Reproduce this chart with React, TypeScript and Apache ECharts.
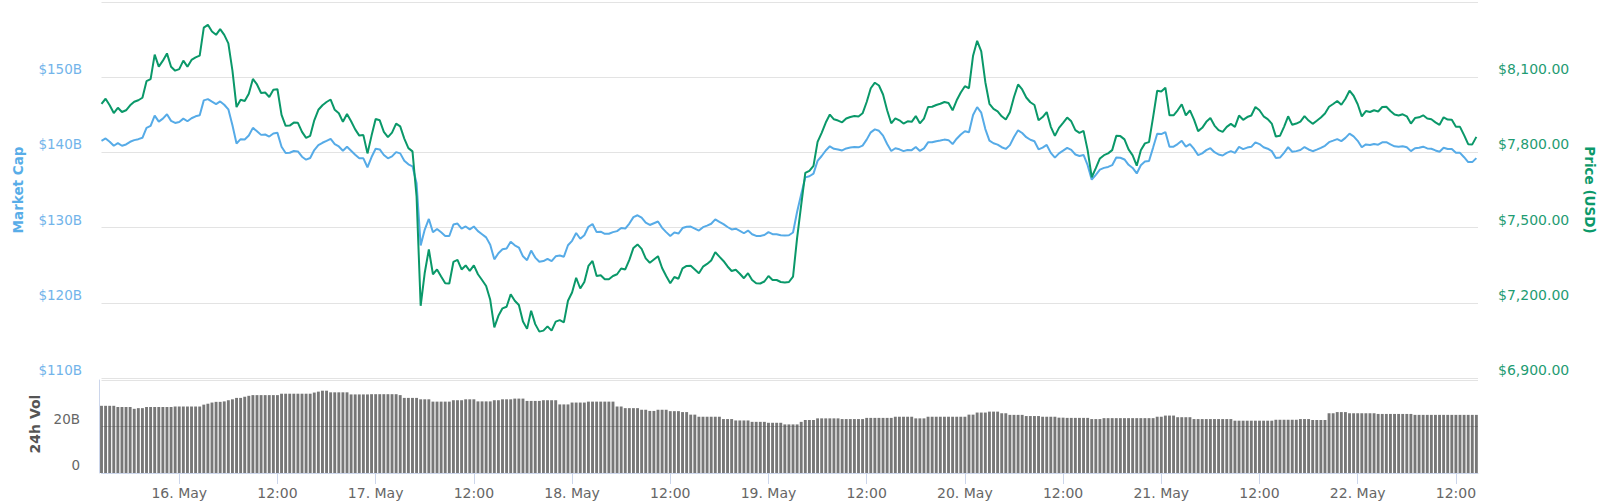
import React, { useEffect, useRef } from "react";
import * as echarts from "echarts";

// Sampling grid: hours since 16 May 00:00, every 30 minutes from 15 May 14:30
const startHour = -9.5;
const stepHours = 0.5;
const axisMinHour = -9.5;
const axisMaxHour = 158.7;

// Price (USD)
const price = [
  7994, 8014, 7988, 7957, 7978, 7961, 7968, 7988, 8002, 8008,
  8018, 8084, 8092, 8190, 8142, 8166, 8195, 8142, 8126, 8132,
  8166, 8142, 8169, 8179, 8186, 8298, 8309, 8282, 8269, 8292,
  8269, 8235, 8126, 7981, 8010, 8005, 8034, 8093, 8071, 8037,
  8039, 8021, 8050, 8052, 7950, 7906, 7907, 7919, 7918, 7882,
  7858, 7866, 7928, 7970, 7988, 8001, 8011, 7970, 7956, 7922,
  7953, 7924, 7892, 7867, 7869, 7796, 7867, 7933, 7928, 7882,
  7861, 7879, 7915, 7904, 7855, 7817, 7804, 7624, 7188, 7320,
  7413, 7314, 7333, 7305, 7278, 7277, 7363, 7371, 7333, 7349,
  7327, 7349, 7314, 7291, 7267, 7212, 7102, 7148, 7178, 7184,
  7234, 7208, 7191, 7125, 7096, 7168, 7115, 7085, 7089, 7106,
  7089, 7125, 7131, 7122, 7208, 7241, 7300, 7257, 7283, 7347,
  7367, 7307, 7310, 7294, 7294, 7307, 7314, 7337, 7333, 7371,
  7419, 7433, 7415, 7377, 7360, 7373, 7386, 7339, 7307, 7278,
  7303, 7296, 7337, 7347, 7348, 7333, 7318, 7344, 7355, 7369,
  7402, 7384, 7367, 7345, 7327, 7332, 7316, 7298, 7318, 7291,
  7278, 7277, 7285, 7307, 7291, 7291, 7283, 7281, 7283, 7304,
  7459, 7591, 7718, 7726, 7746, 7842, 7878, 7919, 7951, 7932,
  7927, 7920, 7935, 7941, 7945, 7943, 7956, 8001, 8056, 8078,
  8067, 8031, 7968, 7916, 7936, 7928, 7915, 7924, 7922, 7945,
  7916, 7935, 7981, 7982, 7989, 7994, 8001, 7997, 7968, 8008,
  8039, 8064, 8056, 8186, 8245, 8203, 8080, 7994, 7974, 7964,
  7944, 7931, 7960, 8021, 8071, 8051, 8019, 8000, 7989, 7928,
  7941, 7961, 7902, 7866, 7898, 7918, 7939, 7924, 7889, 7878,
  7886, 7809, 7701, 7737, 7776, 7789, 7796, 7809, 7866, 7865,
  7852, 7812, 7788, 7747, 7809, 7836, 7841, 7941, 8046, 8043,
  8058, 7948, 7948, 7968, 7992, 7948, 7968, 7931, 7885, 7898,
  7922, 7937, 7907, 7889, 7882, 7902, 7914, 7902, 7947, 7930,
  7941, 7947, 7981, 7968, 7944, 7933, 7915, 7863, 7866, 7902,
  7944, 7910, 7915, 7923, 7945, 7927, 7914, 7926, 7939, 7955,
  7982, 7993, 8005, 7990, 8014, 8046, 8026, 7992, 7944, 7965,
  7961, 7968, 7963, 7981, 7982, 7965, 7951, 7947, 7952, 7944,
  7915, 7937, 7940, 7948, 7935, 7932, 7920, 7910, 7940, 7931,
  7930, 7902, 7902, 7869, 7833, 7832, 7862,
];

// Market cap (billions USD)
const marketCap = [
  141.54, 141.85, 141.41, 140.88, 141.23, 140.88, 141.06, 141.41, 141.63, 141.76,
  141.94, 143.26, 143.52, 144.89, 144.10, 144.49, 145.07, 144.19, 143.92, 144.05,
  144.49, 144.14, 144.54, 144.80, 144.93, 146.92, 147.09, 146.74, 146.43, 146.78,
  146.34, 145.73, 143.61, 141.19, 141.76, 141.72, 142.25, 143.26, 142.82, 142.33,
  142.38, 142.11, 142.51, 142.60, 140.75, 139.91, 139.96, 140.18, 140.13, 139.43,
  139.03, 139.25, 140.31, 140.97, 141.28, 141.54, 141.81, 141.10, 140.79, 140.22,
  140.75, 140.22, 139.69, 139.21, 139.21, 138.02, 139.38, 140.48, 140.40, 139.65,
  139.21, 139.47, 140.04, 139.87, 138.90, 138.41, 138.15, 135.90, 127.62, 129.74,
  131.15, 129.38, 129.82, 129.37, 128.89, 128.88, 130.40, 130.54, 129.87, 130.15,
  129.76, 130.15, 129.53, 129.12, 128.70, 127.72, 125.78, 126.59, 127.12, 127.23,
  128.11, 127.65, 127.35, 126.18, 125.67, 126.94, 126.01, 125.47, 125.55, 125.85,
  125.55, 126.18, 126.29, 126.13, 127.65, 128.24, 129.28, 128.52, 128.98, 130.11,
  130.47, 129.40, 129.46, 129.18, 129.18, 129.40, 129.53, 129.94, 129.87, 130.54,
  131.39, 131.64, 131.32, 130.65, 130.35, 130.58, 130.81, 129.97, 129.40, 128.89,
  129.34, 129.21, 129.94, 130.11, 130.13, 129.87, 129.60, 130.06, 130.26, 130.51,
  131.09, 130.77, 130.47, 130.08, 129.76, 129.85, 129.57, 129.25, 129.60, 129.12,
  128.89, 128.88, 129.02, 129.40, 129.12, 129.12, 128.98, 128.95, 128.98, 129.35,
  132.10, 134.44, 136.68, 136.83, 137.18, 138.88, 139.52, 140.25, 140.81, 140.48,
  140.39, 140.26, 140.53, 140.64, 140.71, 140.67, 140.90, 141.70, 142.67, 143.06,
  142.87, 142.23, 141.11, 140.19, 140.55, 140.41, 140.17, 140.33, 140.30, 140.71,
  140.19, 140.53, 141.34, 141.36, 141.49, 141.57, 141.70, 141.63, 141.11, 141.82,
  142.37, 142.81, 142.67, 144.97, 146.02, 145.28, 143.10, 141.57, 141.22, 141.04,
  140.69, 140.46, 140.97, 142.05, 142.94, 142.58, 142.02, 141.68, 141.49, 140.41,
  140.64, 140.99, 139.94, 139.31, 139.87, 140.23, 140.60, 140.33, 139.72, 139.52,
  139.66, 138.30, 136.38, 137.02, 137.71, 137.94, 138.07, 138.30, 139.31, 139.29,
  139.06, 138.35, 137.93, 137.20, 138.30, 138.78, 138.86, 140.64, 142.49, 142.44,
  142.71, 140.76, 140.76, 141.11, 141.54, 140.76, 141.11, 140.46, 139.64, 139.87,
  140.30, 140.56, 140.03, 139.72, 139.59, 139.94, 140.16, 139.94, 140.74, 140.44,
  140.64, 140.74, 141.34, 141.11, 140.69, 140.49, 140.17, 139.25, 139.31, 139.94,
  140.69, 140.09, 140.17, 140.32, 140.71, 140.39, 140.16, 140.37, 140.60, 140.88,
  141.36, 141.56, 141.77, 141.50, 141.93, 142.49, 142.14, 141.54, 140.69, 141.06,
  140.99, 141.11, 141.03, 141.34, 141.36, 141.06, 140.81, 140.74, 140.83, 140.69,
  140.17, 140.56, 140.62, 140.76, 140.53, 140.48, 140.26, 140.09, 140.62, 140.46,
  140.44, 139.94, 139.94, 139.36, 138.72, 138.71, 139.24,
];

// 24h volume (billions USD)
const volume = [
  28.9, 28.9, 28.9, 28.9, 28.4, 28.4, 28.4, 28.4, 27.6, 27.9,
  27.9, 28.4, 28.4, 28.4, 28.4, 28.4, 28.4, 28.4, 28.6, 28.6,
  28.6, 28.6, 28.6, 28.6, 28.6, 29.4, 29.8, 30.3, 30.6, 30.6,
  30.8, 31.3, 31.7, 32.3, 32.3, 32.8, 33.2, 33.5, 33.5, 33.5,
  33.5, 33.5, 33.5, 33.5, 34.1, 34.1, 34.1, 34.1, 34.1, 34.1,
  34.1, 34.1, 34.6, 35.0, 35.4, 35.4, 34.7, 34.7, 34.7, 34.7,
  34.7, 33.8, 33.8, 33.8, 33.8, 33.8, 33.9, 33.9, 33.9, 33.9,
  33.9, 33.9, 33.9, 33.5, 32.3, 32.3, 32.3, 32.3, 31.7, 31.7,
  31.7, 30.7, 30.7, 30.7, 30.7, 30.7, 31.3, 31.3, 31.3, 31.7,
  31.7, 31.7, 30.8, 30.8, 30.8, 30.8, 31.3, 31.3, 31.7, 31.7,
  31.7, 32.0, 32.0, 32.0, 31.0, 31.0, 31.0, 31.0, 31.3, 31.3,
  31.3, 31.3, 29.5, 29.5, 29.5, 30.3, 30.3, 30.3, 30.3, 30.7,
  30.7, 30.7, 30.7, 30.7, 30.7, 30.7, 28.6, 28.6, 27.9, 27.9,
  27.9, 27.9, 27.2, 27.2, 26.7, 26.7, 27.2, 27.2, 27.2, 26.6,
  26.6, 26.6, 26.2, 26.2, 25.1, 25.1, 24.2, 24.2, 24.2, 24.2,
  24.2, 24.2, 23.2, 23.2, 23.2, 22.6, 22.6, 22.6, 22.6, 22.0,
  22.0, 22.0, 22.0, 21.6, 21.6, 21.6, 21.6, 20.9, 20.9, 20.9,
  20.9, 22.0, 22.8, 22.8, 22.8, 23.5, 23.5, 23.5, 23.5, 23.5,
  23.5, 23.2, 23.2, 23.2, 23.2, 23.2, 23.2, 23.7, 23.7, 23.7,
  23.7, 23.7, 23.7, 23.7, 24.2, 24.2, 24.2, 24.2, 24.2, 23.5,
  23.5, 23.5, 24.2, 24.2, 24.2, 24.2, 24.2, 24.2, 24.2, 24.2,
  24.2, 24.2, 25.1, 25.1, 26.0, 26.0, 26.0, 26.4, 26.4, 26.4,
  25.7, 25.7, 25.0, 25.0, 25.0, 25.0, 24.5, 24.5, 24.5, 24.5,
  24.2, 24.2, 24.2, 24.2, 23.8, 23.8, 23.7, 23.7, 23.7, 23.7,
  23.7, 23.7, 23.2, 23.2, 23.2, 23.6, 23.6, 23.6, 23.6, 23.6,
  23.6, 23.6, 23.6, 23.6, 23.6, 23.6, 23.6, 23.6, 24.2, 24.2,
  24.7, 24.7, 24.7, 24.0, 24.0, 24.0, 24.0, 23.2, 23.2, 23.2,
  23.2, 23.2, 23.2, 23.2, 23.2, 23.2, 23.2, 22.5, 22.5, 22.5,
  22.5, 22.5, 22.5, 22.5, 22.5, 22.5, 22.5, 22.9, 22.9, 22.9,
  22.9, 22.9, 22.9, 23.2, 23.2, 23.2, 22.8, 22.8, 22.8, 22.8,
  25.7, 25.7, 26.2, 26.2, 26.2, 25.7, 25.7, 25.7, 25.7, 25.7,
  25.7, 25.7, 25.4, 25.4, 25.4, 25.4, 25.4, 25.4, 25.4, 25.4,
  25.4, 25.0, 25.0, 25.0, 25.0, 25.0, 25.0, 25.0, 25.0, 25.0,
  25.0, 25.0, 25.0, 25.0, 25.0, 25.0, 25.0,
];

const tickHours = [0, 12, 24, 36, 48, 60, 72, 84, 96, 108, 120, 132, 144, 156];
const tickLabels = [
  "16. May", "12:00", "17. May", "12:00", "18. May", "12:00", "19. May",
  "12:00", "20. May", "12:00", "21. May", "12:00", "22. May", "12:00",
];

const FONT = '"DejaVu Sans", Verdana, sans-serif';
const BLUE = "#56abe7";
const GREEN = "#0a9869";

export default function App() {
  const ref = useRef<HTMLDivElement>(null);

  useEffect(() => {
    document.body.style.margin = "0";
    if (!ref.current) return;
    const chart = echarts.init(ref.current, null, { renderer: "svg" });

    const t = (i: number) => startHour + i * stepHours;
    const priceData = price.map((v, i) => [t(i), v]);
    const capData = marketCap.map((v, i) => [t(i), v]);
    const volData = volume.map((v, i) => [t(i), v]);

    const gridLeft = 101.5;
    const gridWidth = 1376.5;

    const option: any = {
      animation: false,
      backgroundColor: "#ffffff",
      textStyle: { fontFamily: FONT },
      grid: [
        { left: gridLeft, width: gridWidth, top: 2, height: 376 },
        { left: gridLeft, width: gridWidth, top: 380, height: 93 },
      ],
      xAxis: [
        {
          type: "value",
          gridIndex: 0,
          min: axisMinHour,
          max: axisMaxHour,
          show: false,
          axisLine: { onZero: false },
        },
        {
          type: "value",
          gridIndex: 1,
          min: axisMinHour,
          max: axisMaxHour,
          axisLine: {
            show: true,
            onZero: false,
            lineStyle: { color: "#ccd6eb", width: 1 },
          },
          axisTick: {
            show: true,
            customValues: tickHours,
            length: 11,
            lineStyle: { color: "#ccd6eb", width: 1 },
          },
          axisLabel: {
            show: true,
            customValues: tickHours,
            margin: 13,
            color: "#666666",
            fontSize: 14,
            fontFamily: FONT,
            formatter: (v: number) => {
              const k = tickHours.indexOf(Math.round(v));
              return k >= 0 ? tickLabels[k] : "";
            },
          },
          splitLine: { show: false },
        },
      ],
      yAxis: [
        {
          type: "value",
          gridIndex: 0,
          position: "left",
          min: 110,
          max: 160,
          interval: 10,
          axisLine: { show: false, onZero: false },
          axisTick: { show: false },
          axisLabel: {
            margin: 19.5,
            color: "#72b4ea",
            fontSize: 13.5,
            fontFamily: FONT,
            verticalAlign: "bottom",
            lineHeight: 16,
            formatter: (v: number) => (v >= 160 ? "" : `$${v}B`),
          },
          splitLine: { show: true, lineStyle: { color: "#e3e3e3", width: 1 } },
        },
        {
          type: "value",
          gridIndex: 0,
          position: "right",
          min: 6900,
          max: 8400,
          interval: 300,
          axisLine: { show: false, onZero: false },
          axisTick: { show: false },
          axisLabel: {
            margin: 20,
            color: "#1f9c73",
            fontSize: 14,
            fontFamily: FONT,
            verticalAlign: "bottom",
            lineHeight: 16,
            formatter: (v: number) =>
              v >= 8400
                ? ""
                : "$" +
                  v.toLocaleString("en-US", {
                    minimumFractionDigits: 2,
                    maximumFractionDigits: 2,
                  }),
          },
          splitLine: { show: false },
        },
        {
          type: "value",
          gridIndex: 1,
          position: "left",
          offset: 2.5,
          min: 0,
          max: 40,
          interval: 20,
          axisLine: {
            show: true,
            onZero: false,
            lineStyle: { color: "#ccd6eb", width: 1 },
          },
          axisTick: { show: false },
          axisLabel: {
            margin: 19,
            color: "#666666",
            fontSize: 13.5,
            fontFamily: FONT,
            verticalAlign: "bottom",
            lineHeight: 16,
            formatter: (v: number) => (v === 0 ? "0" : v >= 40 ? "" : `${v}B`),
          },
          splitLine: { show: true, lineStyle: { color: "#e3e3e3", width: 1 } },
        },
      ],
      series: [
        {
          name: "24h Vol",
          type: "bar",
          xAxisIndex: 1,
          yAxisIndex: 2,
          data: volData,
          barWidth: 2.9,
          itemStyle: { color: "#777777" },
          silent: true,
          markLine: {
            silent: true,
            symbol: "none",
            label: { show: false },
            lineStyle: { color: "rgba(0,0,0,0.13)", type: "solid", width: 1 },
            data: [{ yAxis: 20 }],
          },
        },
        {
          name: "Market Cap",
          type: "line",
          xAxisIndex: 0,
          yAxisIndex: 0,
          data: capData,
          showSymbol: false,
          lineStyle: { color: BLUE, width: 2 },
          itemStyle: { color: BLUE },
          silent: true,
        },
        {
          name: "Price (USD)",
          type: "line",
          xAxisIndex: 0,
          yAxisIndex: 1,
          data: priceData,
          showSymbol: false,
          lineStyle: { color: GREEN, width: 2 },
          itemStyle: { color: GREEN },
          silent: true,
        },
      ],
      graphic: [
        {
          type: "text",
          x: 18,
          y: 190,
          rotation: Math.PI / 2,
          style: {
            text: "Market Cap",
            fill: "#58ade8",
            font: `bold 13.5px ${FONT}`,
            align: "center",
            verticalAlign: "middle",
            textAlign: "center",
            textVerticalAlign: "middle",
          },
        },
        {
          type: "text",
          x: 1590,
          y: 190,
          rotation: -Math.PI / 2,
          style: {
            text: "Price (USD)",
            fill: "#0b996a",
            font: `bold 13.5px ${FONT}`,
            align: "center",
            verticalAlign: "middle",
            textAlign: "center",
            textVerticalAlign: "middle",
          },
        },
        {
          type: "text",
          x: 35,
          y: 424,
          rotation: Math.PI / 2,
          style: {
            text: "24h Vol",
            fill: "#555555",
            font: `bold 14px ${FONT}`,
            align: "center",
            verticalAlign: "middle",
            textAlign: "center",
            textVerticalAlign: "middle",
          },
        },
      ],
    };

    chart.setOption(option);
    return () => chart.dispose();
  }, []);

  return (
    <div
      ref={ref}
      style={{ position: "absolute", left: 0, top: 0, width: 1600, height: 502 }}
    />
  );
}
